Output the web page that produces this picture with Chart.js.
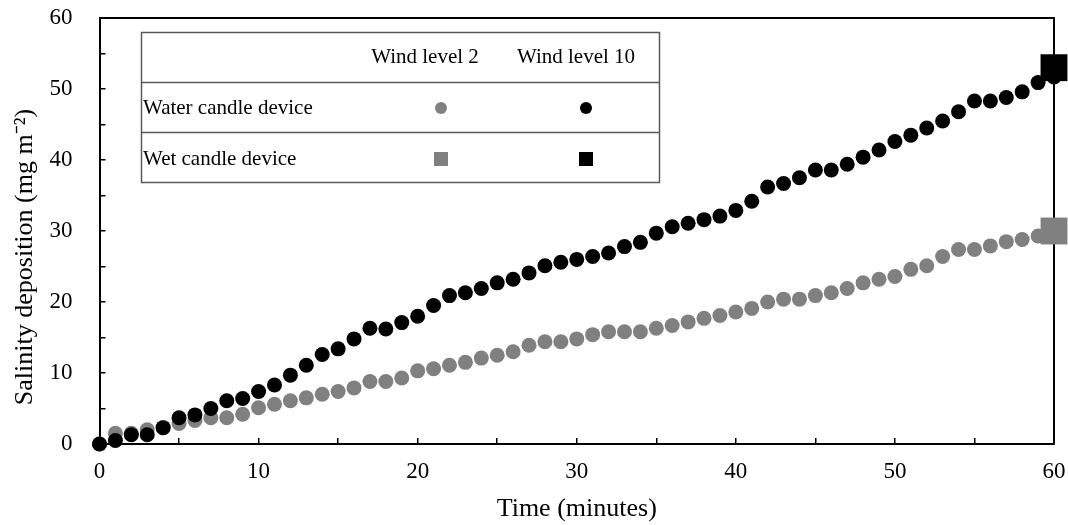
<!DOCTYPE html>
<html>
<head>
<meta charset="utf-8">
<script src="https://cdn.jsdelivr.net/npm/chart.js@4"></script>
<style>
  body { margin: 0; background: #ffffff; }
  canvas { display: block; }
</style>
</head>
<body>
<canvas id="deposition" width="1068" height="525"></canvas>
<script>
// Time axis (minutes)
const minutes = [
  0, 1, 2, 3, 4, 5, 6, 7, 8, 9, 10, 11, 12, 13, 14, 15, 16, 17, 18, 19, 20,
  21, 22, 23, 24, 25, 26, 27, 28, 29, 30, 31, 32, 33, 34, 35, 36, 37, 38, 39, 40,
  41, 42, 43, 44, 45, 46, 47, 48, 49, 50, 51, 52, 53, 54, 55, 56, 57, 58, 59, 60,
];

// Water candle device, wind level 2 (grey dots)
const waterWind2 = [
  0, 1.5, 1.5, 2.0, 2.3, 2.9, 3.3, 3.7, 3.7, 4.2, 5.1, 5.6, 6.1, 6.5, 7.0, 7.4, 7.9, 8.8, 8.8, 9.3, 10.3,
  10.6, 11.1, 11.5, 12.1, 12.5, 13.0, 13.9, 14.4, 14.4, 14.8, 15.4, 15.8, 15.8, 15.8, 16.3, 16.7, 17.2, 17.7, 18.1, 18.6,
  19.1, 20.0, 20.4, 20.4, 20.9, 21.3, 21.9, 22.7, 23.2, 23.6, 24.6, 25.1, 26.4, 27.4, 27.4, 27.9, 28.5, 28.8, 29.3, 29.6,
];

// Water candle device, wind level 10 (black dots)
const waterWind10 = [
  0, 0.5, 1.3, 1.3, 2.3, 3.7, 4.1, 5.0, 6.1, 6.4, 7.4, 8.3, 9.7, 11.1, 12.6, 13.4, 14.8, 16.3, 16.2, 17.1, 18.0,
  19.5, 20.9, 21.3, 21.9, 22.7, 23.2, 24.1, 25.1, 25.6, 26.0, 26.4, 26.9, 27.8, 28.4, 29.7, 30.6, 31.1, 31.6, 32.1, 32.9,
  34.2, 36.2, 36.7, 37.5, 38.6, 38.6, 39.4, 40.4, 41.4, 42.6, 43.5, 44.5, 45.5, 46.8, 48.3, 48.3, 48.8, 49.6, 50.9, 51.7,
];

// Wet candle device, single reading at the end of the run
const wetMinutes = [60];
const wetWind2 = [30.0];
const wetWind10 = [53.0];

// Legend table texts
const legendColumns = ["Wind level 2", "Wind level 10"];
const legendRows = ["Water candle device", "Wet candle device"];

const grey = "#808080";
const black = "#000000";
const serif = "'Liberation Serif', 'Times New Roman', serif";

Chart.defaults.font.family = serif;
Chart.defaults.color = black;

// Build {x, y} points from the arrays
function toPoints(xs, ys) {
  return ys.map((y, i) => ({ x: xs[i], y: y }));
}

// Only label every 10, minor ticks at 5 stay unlabeled
function tenthLabel(value) {
  return value % 10 === 0 ? value : "";
}

// Top and right edges of the plot frame
const plotFrame = {
  id: "plotFrame",
  beforeDatasetsDraw(chart) {
    const { ctx, chartArea } = chart;
    ctx.save();
    ctx.strokeStyle = black;
    ctx.lineWidth = 2;
    ctx.beginPath();
    ctx.moveTo(chartArea.left, chartArea.top);
    ctx.lineTo(chartArea.right, chartArea.top);
    ctx.lineTo(chartArea.right, chartArea.bottom);
    ctx.stroke();
    ctx.restore();
  },
};

// Table-like legend drawn in the upper left of the plot
const legendTable = {
  id: "legendTable",
  afterDatasetsDraw(chart) {
    const ctx = chart.ctx;
    const box = { left: 141.5, top: 32.5, width: 518, height: 150 };
    const rowLines = [82.5, 132.5];
    const columnX = [441, 586];
    const headerX = [425, 576];
    const rowY = [108, 159];

    ctx.save();
    ctx.fillStyle = "#ffffff";
    ctx.fillRect(box.left, box.top, box.width, box.height);
    ctx.strokeStyle = "#595959";
    ctx.lineWidth = 1.5;
    ctx.strokeRect(box.left, box.top, box.width, box.height);
    rowLines.forEach((y) => {
      ctx.beginPath();
      ctx.moveTo(box.left, y);
      ctx.lineTo(box.left + box.width, y);
      ctx.stroke();
    });

    ctx.fillStyle = black;
    ctx.font = "21px " + serif;
    ctx.textBaseline = "middle";
    ctx.textAlign = "center";
    legendColumns.forEach((text, i) => ctx.fillText(text, headerX[i], 57));
    ctx.textAlign = "left";
    legendRows.forEach((text, i) => ctx.fillText(text, 143, rowY[i]));

    const colors = [grey, black];
    colors.forEach((color, i) => {
      ctx.fillStyle = color;
      ctx.beginPath();
      ctx.arc(columnX[i], rowY[0], 6, 0, Math.PI * 2);
      ctx.fill();
      ctx.fillRect(columnX[i] - 7, rowY[1] - 7, 14, 14);
    });
    ctx.restore();
  },
};

const depositionChart = new Chart(document.getElementById("deposition").getContext("2d"), {
  type: "scatter",
  data: {
    datasets: [
      {
        label: "Wet candle device, wind level 10",
        data: toPoints(wetMinutes, wetWind10),
        pointStyle: "rect",
        pointRadius: 19,
        backgroundColor: black,
        borderWidth: 0,
        clip: false,
        order: 1,
      },
      {
        label: "Wet candle device, wind level 2",
        data: toPoints(wetMinutes, wetWind2),
        pointStyle: "rect",
        pointRadius: 19,
        backgroundColor: grey,
        borderWidth: 0,
        clip: false,
        order: 2,
      },
      {
        label: "Water candle device, wind level 10",
        data: toPoints(minutes, waterWind10),
        pointRadius: 7.5,
        backgroundColor: black,
        borderWidth: 0,
        clip: false,
        order: 3,
      },
      {
        label: "Water candle device, wind level 2",
        data: toPoints(minutes, waterWind2),
        pointRadius: 7.5,
        backgroundColor: grey,
        borderWidth: 0,
        clip: false,
        order: 4,
      },
    ],
  },
  options: {
    responsive: false,
    animation: false,
    layout: { autoPadding: false, padding: { left: 0, right: 14, top: 18, bottom: 0 } },
    plugins: {
      legend: { display: false },
      tooltip: { enabled: false },
    },
    scales: {
      x: {
        type: "linear",
        position: "bottom",
        min: 0,
        max: 60,
        // fixed height, and no extra side padding from the large tick padding
        afterFit: (scale) => {
          scale.height = 81;
          scale.paddingLeft = 0;
          scale.paddingRight = 0;
        },
        ticks: {
          stepSize: 5,
          autoSkip: false,
          maxRotation: 0,
          padding: 20,
          callback: tenthLabel,
          font: { size: 23 },
          color: black,
        },
        grid: { drawOnChartArea: false, tickLength: -6, color: black, lineWidth: 1.5 },
        border: { color: black, width: 2 },
        title: {
          display: true,
          text: "Time (minutes)",
          font: { size: 26 },
          color: black,
          padding: 0,
        },
      },
      y: {
        type: "linear",
        position: "left",
        min: 0,
        max: 60,
        afterFit: (scale) => {
          scale.width = 99.5;
          scale.paddingTop = 0;
          scale.paddingBottom = 0;
        },
        ticks: {
          stepSize: 5,
          autoSkip: false,
          padding: 33,
          callback: tenthLabel,
          font: { size: 23 },
          color: black,
        },
        grid: { drawOnChartArea: false, tickLength: -6, color: black, lineWidth: 1.5 },
        border: { color: black, width: 2 },
        title: {
          display: true,
          text: "Salinity deposition (mg m\u207B\u00B2)        ",
          font: { size: 26 },
          color: black,
          padding: { top: 10, bottom: 0 },
        },
      },
    },
  },
  plugins: [plotFrame, legendTable],
});
</script>
</body>
</html>
